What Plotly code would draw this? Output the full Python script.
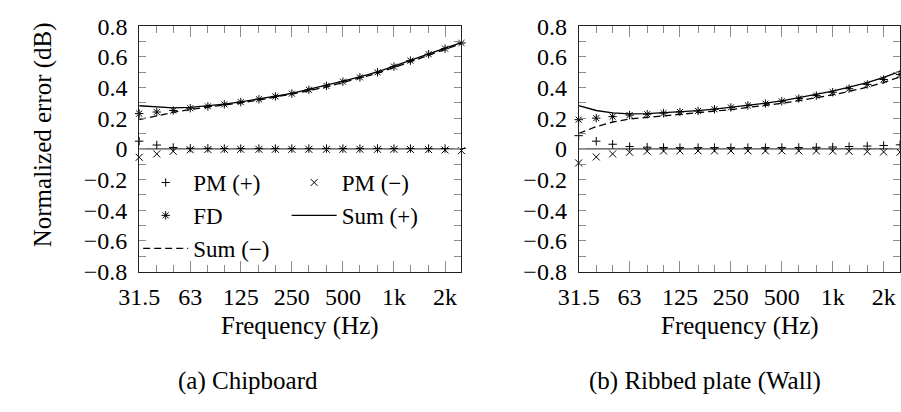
import math
import plotly.graph_objects as go

# Third-octave band centre frequencies (Hz)
freq = [31.5, 40, 50, 63, 80, 100, 125, 160, 200, 250, 315, 400, 500,
        630, 800, 1000, 1250, 1600, 2000, 2500]

# (a) Chipboard
pm_plus_a = [0.050, 0.025, 0.009, 0.004, 0.003, 0.002, 0.002, 0.002, 0.002, 0.002,
             0.002, 0.002, 0.002, 0.002, 0.002, 0.002, 0.002, 0.002, 0.002, 0.002]
pm_minus_a = [-0.055, -0.033, -0.016, -0.006, -0.004, -0.003, -0.003, -0.003, -0.003, -0.003,
              -0.003, -0.003, -0.003, -0.003, -0.003, -0.003, -0.004, -0.005, -0.007, -0.012]
fd_a = [0.230, 0.240, 0.250, 0.265, 0.277, 0.290, 0.305, 0.323, 0.342, 0.360,
        0.385, 0.410, 0.438, 0.466, 0.499, 0.536, 0.575, 0.617, 0.653, 0.690]
sum_plus_a = [0.281, 0.272, 0.267, 0.270, 0.279, 0.291, 0.306, 0.324, 0.343, 0.362,
              0.387, 0.412, 0.441, 0.469, 0.502, 0.539, 0.578, 0.620, 0.656, 0.692]
sum_minus_a = [0.190, 0.215, 0.238, 0.257, 0.271, 0.285, 0.300, 0.318, 0.337, 0.355,
               0.379, 0.404, 0.432, 0.460, 0.493, 0.530, 0.569, 0.611, 0.648, 0.686]

# (b) Ribbed plate (Wall)
pm_plus_b = [0.086, 0.050, 0.030, 0.015, 0.011, 0.009, 0.008, 0.008, 0.008, 0.008,
             0.008, 0.008, 0.009, 0.009, 0.010, 0.012, 0.015, 0.018, 0.022, 0.026]
pm_minus_b = [-0.092, -0.053, -0.033, -0.022, -0.016, -0.014, -0.013, -0.013, -0.013, -0.013,
              -0.013, -0.013, -0.013, -0.013, -0.014, -0.015, -0.016, -0.018, -0.020, -0.022]
fd_b = [0.190, 0.200, 0.210, 0.220, 0.226, 0.233, 0.240, 0.247, 0.258, 0.270,
        0.283, 0.295, 0.310, 0.328, 0.347, 0.369, 0.392, 0.420, 0.452, 0.485]
sum_plus_b = [0.281, 0.250, 0.235, 0.228, 0.230, 0.235, 0.241, 0.249, 0.259, 0.270,
              0.283, 0.298, 0.313, 0.333, 0.353, 0.377, 0.402, 0.432, 0.466, 0.505]
sum_minus_b = [0.100, 0.145, 0.175, 0.195, 0.205, 0.215, 0.225, 0.233, 0.245, 0.256,
               0.270, 0.283, 0.297, 0.314, 0.332, 0.352, 0.375, 0.402, 0.432, 0.470]

# Axis ticks
x_major = [31.5, 63, 125, 250, 500, 1000, 2000]
x_major_text = ["31.5", "63", "125", "250", "500", "1k", "2k"]
x_minor = [40, 50, 80, 100, 160, 200, 315, 400, 630, 800, 1250, 1600, 2500]
y_ticks = [-0.8, -0.7, -0.6, -0.5, -0.4, -0.3, -0.2, -0.1, 0.0,
           0.1, 0.2, 0.3, 0.4, 0.5, 0.6, 0.7, 0.8]
y_tick_text = ["\u22120.8", "", "\u22120.6", "", "\u22120.4", "", "\u22120.2", "", "0",
               "", "0.2", "", "0.4", "", "0.6", "", "0.8"]

W, H = 901, 412
FONT = "Liberation Serif"
TICK_FS = 24
LABEL_FS = 25
LEGEND_FS = 23
INK = "black"
TICK_GREY = "#8c8c8c"

fig = go.Figure()

panels = [
    ("x", "y", pm_plus_a, pm_minus_a, fd_a, sum_plus_a, sum_minus_a, True),
    ("x2", "y2", pm_plus_b, pm_minus_b, fd_b, sum_plus_b, sum_minus_b, False),
]

for xa, ya, pmp, pmm, fd, sp, sm, show in panels:
    fig.add_trace(go.Scatter(
        x=freq, y=pmp, mode="markers", name="PM (+)", xaxis=xa, yaxis=ya,
        legend="legend", showlegend=show, cliponaxis=False,
        marker=dict(symbol="cross-thin", size=6, color=INK, line=dict(width=1, color=INK))))
    fig.add_trace(go.Scatter(
        x=freq, y=pmm, mode="markers", name="PM (\u2212)", xaxis=xa, yaxis=ya,
        legend="legend2", showlegend=show, cliponaxis=False,
        marker=dict(symbol="x-thin", size=7, color=INK, line=dict(width=1, color=INK))))
    fig.add_trace(go.Scatter(
        x=freq, y=fd, mode="markers", name="FD", xaxis=xa, yaxis=ya,
        legend="legend", showlegend=show, cliponaxis=False,
        marker=dict(symbol="asterisk-open", size=7, color=INK, line=dict(width=1, color=INK))))
    fig.add_trace(go.Scatter(
        x=freq, y=sp, mode="lines", name="Sum (+)", xaxis=xa, yaxis=ya,
        legend="legend2", showlegend=show,
        line=dict(color=INK, width=1.3)))
    fig.add_trace(go.Scatter(
        x=freq, y=sm, mode="lines", name="Sum (\u2212)", xaxis=xa, yaxis=ya,
        legend="legend", showlegend=show,
        line=dict(color=INK, width=1.3, dash="7px,4px")))

# a hair of padding keeps the end-band markers inside the range test
EPS = 1e-6
x_range = [math.log10(freq[0]) - EPS, math.log10(freq[-1]) + EPS]


def xaxis_cfg(x0, x1, anchor):
    return dict(
        type="log", range=x_range, domain=[x0 / W, x1 / W], anchor=anchor,
        tickmode="array", tickvals=x_major, ticktext=x_major_text,
        ticks="inside", ticklen=11, tickwidth=1, tickcolor=TICK_GREY,
        minor=dict(tickmode="array", tickvals=x_minor, ticks="inside",
                   ticklen=7, tickwidth=1, tickcolor=TICK_GREY, showgrid=False),
        showline=True, linecolor="#222", linewidth=1, mirror="ticks",
        showgrid=False, zeroline=False, ticklabelstandoff=4,
        tickfont=dict(family=FONT, size=TICK_FS, color=INK),
    )


def yaxis_cfg(anchor):
    return dict(
        range=[-0.8, 0.8], domain=[(H - 276) / H, (H - 14) / H], anchor=anchor,
        tickmode="array", tickvals=y_ticks, ticktext=y_tick_text,
        ticks="inside", ticklen=7, tickwidth=1, tickcolor=TICK_GREY,
        showline=True, linecolor="#222", linewidth=1, mirror="ticks",
        showgrid=False, zeroline=False, ticklabelstandoff=6,
        tickfont=dict(family=FONT, size=TICK_FS, color=INK),
    )


legend_common = dict(
    xref="paper", yref="paper", xanchor="left", yanchor="top",
    bgcolor="rgba(0,0,0,0)", borderwidth=0, itemwidth=45,
    traceorder="normal", tracegroupgap=0,
    font=dict(family=FONT, size=LEGEND_FS, color=INK),
)

fig.update_layout(
    width=W, height=H,
    margin=dict(l=0, r=0, t=0, b=0),
    paper_bgcolor="white", plot_bgcolor="white",
    font=dict(family=FONT, size=LABEL_FS, color=INK),
    xaxis=xaxis_cfg(121, 451, "y"),
    xaxis2=xaxis_cfg(571, 900, "y2"),
    yaxis=yaxis_cfg("x"),
    yaxis2=yaxis_cfg("x2"),
    legend=dict(legend_common, x=120 / W, y=(H - 158) / H),
    legend2=dict(legend_common, x=272 / W, y=(H - 158) / H),
)

# Reference line at zero error
for xr, yr in (("x domain", "y"), ("x2 domain", "y2")):
    fig.add_shape(type="line", xref=xr, yref=yr, x0=0, x1=1, y0=0, y1=0,
                  line=dict(color="#444", width=1.2), layer="below")

# Axis titles and sub-captions
annotations = [
    dict(text="Normalized error (dB)", x=22 / W, y=(H - 130) / H, textangle=-90),
    dict(text="Frequency (Hz)", x=286 / W, y=(H - 334) / H),
    dict(text="Frequency (Hz)", x=736 / W, y=(H - 334) / H),
    dict(text="(a) Chipboard", x=232 / W, y=(H - 393) / H),
    dict(text="(b) Ribbed plate (Wall)", x=700 / W, y=(H - 393) / H),
]
for a in annotations:
    fig.add_annotation(xref="paper", yref="paper", showarrow=False,
                       xanchor="center", yanchor="middle",
                       font=dict(family=FONT, size=LABEL_FS, color=INK), **a)

fig.write_html("out.html")
